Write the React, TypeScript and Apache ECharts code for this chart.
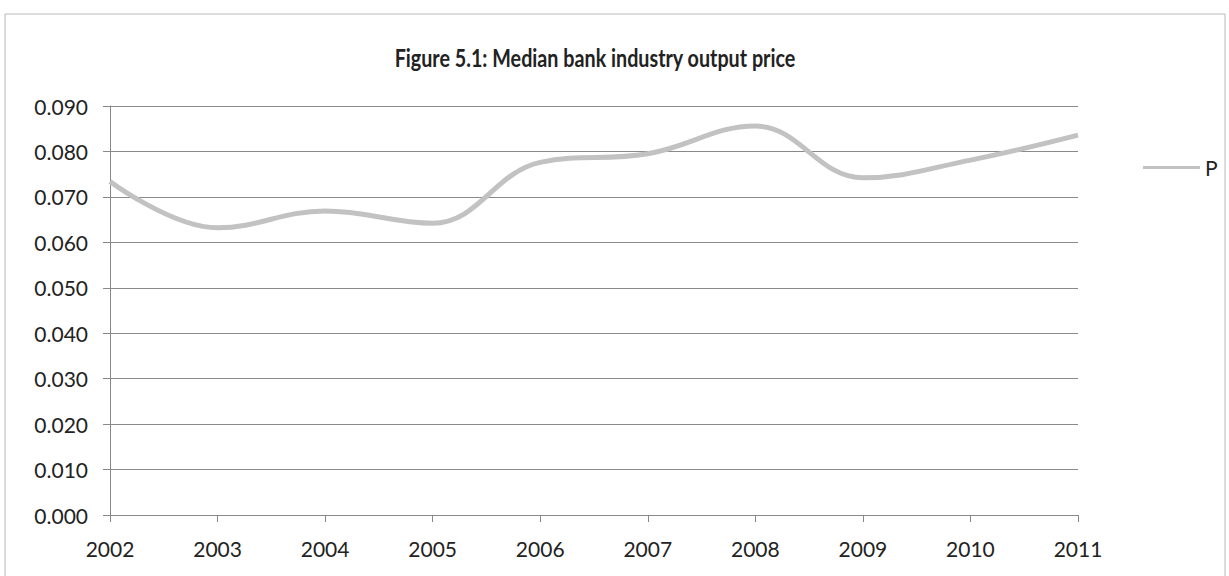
import React, { useEffect, useRef } from "react";
import * as echarts from "echarts";

const years = ["2002", "2003", "2004", "2005", "2006", "2007", "2008", "2009", "2010", "2011"];
const priceP = [0.0734, 0.0632, 0.0669, 0.0642, 0.0776, 0.0795, 0.0856, 0.0742, 0.0781, 0.0836];
const seriesName = "P";
const titleText = "Figure 5.1: Median bank industry output price";

export default function App() {
  const ref = useRef<HTMLDivElement>(null);
  useEffect(() => {
    if (!ref.current) return;
    const chart = echarts.init(ref.current, null, { renderer: "svg" });
    const font = "Lato";
    chart.setOption({
      animation: false,
      backgroundColor: "#ffffff",
      graphic: [
        {
          type: "rect",
          shape: { x: 5, y: 14, width: 1220, height: 600 },
          style: { fill: "none", stroke: "#b8b8b8", lineWidth: 1 },
          silent: true,
        },
        {
          type: "text",
          x: 595,
          y: 58,
          scaleX: 0.79,
          silent: true,
          style: {
            text: titleText,
            fontFamily: font,
            fontWeight: "bold",
            fontSize: 25,
            fill: "#222",
            align: "center",
            verticalAlign: "middle",
          },
        },
      ],
      legend: {
        left: 1138,
        top: 152,
        orient: "vertical",
        icon: "rect",
        itemWidth: 57,
        itemHeight: 3,
        itemGap: 4,
        textStyle: { fontFamily: font, fontSize: 21, color: "#222" },
        data: [seriesName],
      },
      grid: { left: 110, right: 151, top: 106, bottom: 61, containLabel: false },
      xAxis: {
        type: "category",
        data: years,
        boundaryGap: false,
        axisLine: { lineStyle: { color: "#888", width: 1 } },
        axisTick: { show: true, length: 7, lineStyle: { color: "#888" } },
        axisLabel: { fontFamily: font, fontSize: 21, color: "#222", margin: 23 },
        splitLine: { show: false },
      },
      yAxis: {
        type: "value",
        min: 0,
        max: 0.09,
        interval: 0.01,
        axisLine: { show: true, lineStyle: { color: "#888", width: 1 } },
        axisTick: { show: true, length: 7, lineStyle: { color: "#888" } },
        axisLabel: {
          fontFamily: font,
          fontSize: 21,
          color: "#222",
          margin: 22,
          formatter: (v: number) => v.toFixed(3),
        },
        splitLine: { show: true, lineStyle: { color: "#8a8a8a", width: 1 } },
      },
      series: [
        {
          name: seriesName,
          type: "line",
          data: priceP,
          smooth: 0.4,
          showSymbol: false,
          symbol: "none",
          lineStyle: { color: "#c2c2c2", width: 5 },
          itemStyle: { color: "#c2c2c2" },
        },
      ],
    });
    return () => chart.dispose();
  }, []);
  return (
    <div
      ref={ref}
      style={{ position: "fixed", left: 0, top: 0, width: 1229, height: 576, background: "#fff" }}
    />
  );
}
